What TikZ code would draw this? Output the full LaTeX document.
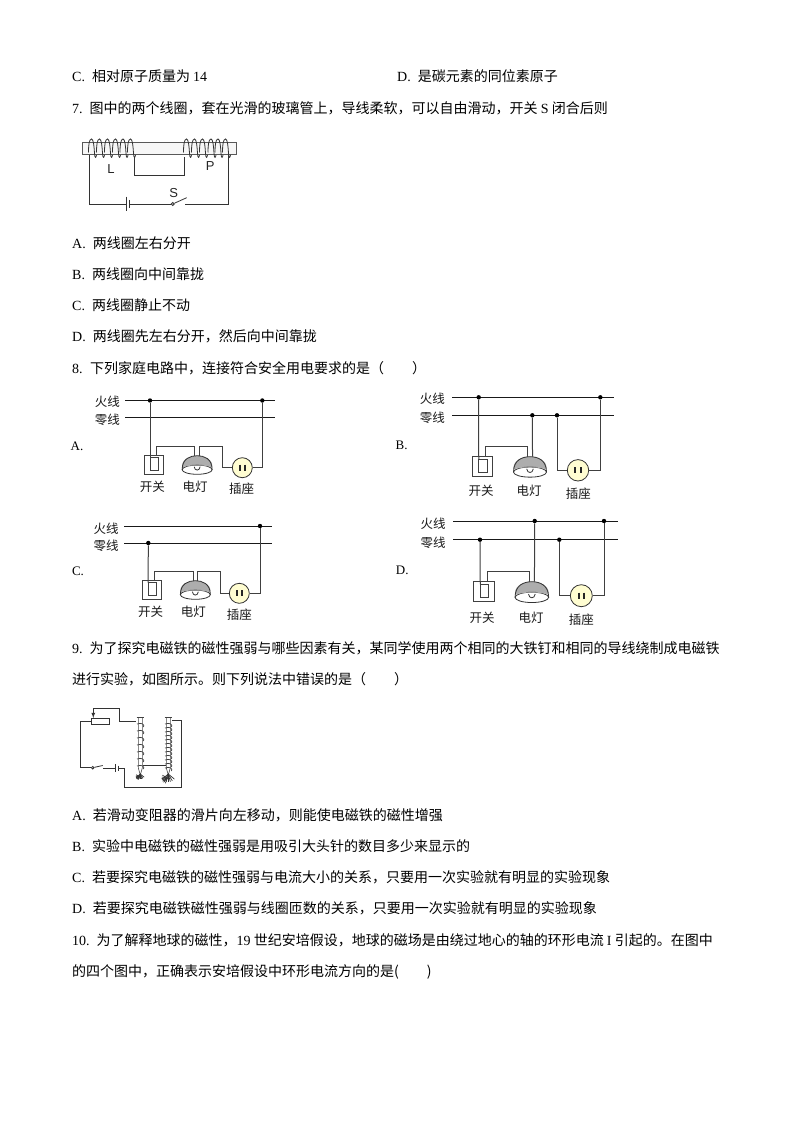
\documentclass[tikz,border=0pt]{standalone}
\usepackage{fontspec}
\setmainfont{Liberation Serif}
\newfontfamily\cjk{Noto Sans CJK SC}
\newfontfamily\labelfont{Liberation Sans}
\usetikzlibrary{positioning,calc,arrows}
\newcommand{\lat}[1]{{\rmfamily #1}}

\tikzset{
  qtext/.style={anchor=base west,inner sep=0pt,yshift=-0.7pt,font=\fontsize{14}{14}\cjk},
  cirtext/.style={inner sep=0pt,font=\fontsize{12.5}{12.5}\cjk,text=black!90},
  opttext/.style={inner sep=0pt,font=\fontsize{13}{13}\rmfamily},
  coiltext/.style={inner sep=0pt,font=\fontsize{13}{13}\labelfont,text=black!85},
  busline/.style={line width=1pt,black!90},
  wire/.style={line width=1pt,black!75},
  thinwire/.style={line width=0.8pt,black!80},
  junc/.style={circle,fill=black,inner sep=0pt,minimum size=4.4pt},
  socket/.style={circle,draw=black!80,line width=0.8pt,fill=yellow!18,inner sep=0pt,
    path picture={
      \draw[line width=2pt,black!85] ($(path picture bounding box.center)+(-2.8,-3)$)--++(0,6);
      \draw[line width=2pt,black!85] ($(path picture bounding box.center)+(2.8,-3)$)--++(0,6);
    }},
  lampshape/.pic={
    \fill[black!32] (-15,10) .. controls (-15,3) and (-7,0) .. (0,0) .. controls (7,0) and (15,3) .. (15,10) -- cycle;
    \draw[thinwire,fill=white] (0,14) ellipse (15 and 4.6);
    \fill[black!32] (-14.6,11.5) .. controls (-7,9) and (7,9) .. (14.6,11.5) -- (15,9) -- (-15,9) -- cycle;
    \draw[thinwire] (-15,14) .. controls (-15,3) and (-7,0) .. (0,0) .. controls (7,0) and (15,3) .. (15,14);
    \draw[thinwire,fill=white] (-3,11) .. controls (-2.5,15.5) and (2.5,15.5) .. (3,11);
    \coordinate (-tl) at (-2.3,0);
    \coordinate (-tr) at (2.3,0);
  },
  switchbox/.pic={
    \draw[wire,fill=white] (-9.6,-9.5) rectangle (9.6,9.5);
    \draw[wire] (-3.65,-6.8) rectangle (4.35,5.5);
    \coordinate (-in) at (-3.65,-6.8);
    \coordinate (-out) at (3,-9.5);
  }
}

\begin{document}
\begin{tikzpicture}[x=1pt,y=-1pt]
\useasboundingbox[fill=white] (0,0) rectangle (794,1123);

% question text
\node[qtext] (optc) at (72,81) {\lat{C.}\hspace{7pt}相对原子质量为 \lat{14}};
\node[qtext] (optd) at (397,81) {\lat{D.}\hspace{7pt}是碳元素的同位素原子};
\node[qtext] (q7) at (72,113) {\lat{7.}\hspace{7pt}图中的两个线圈，套在光滑的玻璃管上，导线柔软，可以自由滑动，开关 \lat{S} 闭合后则};
\node[qtext] (q7a) at (72,248) {\lat{A.}\hspace{7pt}两线圈左右分开};
\node[qtext] (q7b) at (72,279) {\lat{B.}\hspace{7pt}两线圈向中间靠拢};
\node[qtext] (q7c) at (72,310) {\lat{C.}\hspace{7pt}两线圈静止不动};
\node[qtext] (q7d) at (72,341) {\lat{D.}\hspace{7pt}两线圈先左右分开，然后向中间靠拢};
\node[qtext] (q8) at (72,373) {\lat{8.}\hspace{7.5pt}下列家庭电路中，连接符合安全用电要求的是（　　）};
\node[qtext] (q9) at (72,653) {\lat{9.}\hspace{7pt}为了探究电磁铁的磁性强弱与哪些因素有关，某同学使用两个相同的大铁钉和相同的导线绕制成电磁铁};
\node[qtext] (q9l) at (72,684) {进行实验，如图所示。则下列说法中错误的是（　　）};
\node[qtext] (q9a) at (72,820) {\lat{A.}\hspace{7pt}若滑动变阻器的滑片向左移动，则能使电磁铁的磁性增强};
\node[qtext] (q9b) at (72,851) {\lat{B.}\hspace{7pt}实验中电磁铁的磁性强弱是用吸引大头针的数目多少来显示的};
\node[qtext] (q9c) at (72,882) {\lat{C.}\hspace{7pt}若要探究电磁铁的磁性强弱与电流大小的关系，只要用一次实验就有明显的实验现象};
\node[qtext] (q9d) at (72,913) {\lat{D.}\hspace{7pt}若要探究电磁铁磁性强弱与线圈匝数的关系，只要用一次实验就有明显的实验现象};
\node[qtext] (q10) at (72,945) {\lat{10.}\hspace{7pt}为了解释地球的磁性，\lat{19} 世纪安培假设，地球的磁场是由绕过地心的轴的环形电流 \lat{I} 引起的。在图中};
\node[qtext] (q10l) at (72,976) {的四个图中，正确表示安培假设中环形电流方向的是(　　)};

% coil figure
\draw[line width=1pt,black!65,fill=black!3] (82,142.3) rectangle (236,155);
\foreach \x in {91.5,99.5,107.5,115.5,123,130.5,186.5,194.5,202.5,211,218,225.5}{
  \draw[thinwire] (\x-3,152.5) .. controls (\x-3,146) and (\x-2.5,139) .. (\x,139)
    .. controls (\x+2,139) and (\x+2.5,146) .. (\x+3,153) .. controls (\x+3.3,158.5) and (\x+4.5,158.5) .. (\x+5,155);
}
\coordinate (cl) at (89.3,155);
\coordinate (cr) at (228.7,155);
\coordinate (ul) at (134.3,156.7);
\coordinate (ur) at (184,156.7);
\coordinate (batl) at (126,204);
\coordinate (batr) at (129.3,204);
\coordinate (swc) at (185,204);
\node[circle,draw,thinwire,fill=white,inner sep=0pt,minimum size=3pt] (swp) at (172.7,204) {};
\draw[thinwire] (cl) |- (batl);
\draw[thinwire] (batr) -- (swp);
\draw[thinwire] (swp) -- (186.7,197.7);
\draw[thinwire] (swc) -| (cr);
\draw[thinwire] (ul) -- (134.3,175.3) -- (184,175.3) -- (ur);
\draw[thinwire] (126,196.7) -- (126,211);
\draw[thinwire] (129.3,200) -- (129.3,208);
\node[coiltext] (coill) at (111,169) {L};
\node[coiltext] (coilp) at (210.3,166.3) {P};
\node[coiltext] (coils) at (173.7,193.3) {S};

% circuit A
\node[opttext] (la) at (77,446) {A.};
\node[cirtext] (fa) at (107.3,402) {火线};
\node[cirtext] (za) at (107.3,419.3) {零线};
\coordinate (fal) at (125,400.5);
\coordinate (far) at (275,400.5);
\coordinate (zal) at (125,417.3);
\coordinate (zar) at (275,417.3);
\draw[busline] (fal) -- (far);
\draw[busline] (zal) -- (zar);
\node[junc] (a1) at (150,400.5) {};
\node[junc] (a2) at (262.3,400.5) {};
\pic (swa) at (153.65,464.5) {switchbox};
\pic (lampa) at (197.15,455.7) {lampshape};
\node[socket,minimum size=20pt] (socka) at (242.3,467.7) {};
\coordinate (at) at (222.3,446.3);
\draw[wire] (a1) -- (swa-in);
\draw[wire] (swa-out) |- (lampa-tl |- at) -- (lampa-tl);
\draw[wire] (lampa-tr) |- (at) |- (socka.west);
\draw[wire] (socka.east) -| (a2);
\node[cirtext] (kaia) at (152.3,486.7) {开关};
\node[cirtext] (denga) at (195,487) {电灯};
\node[cirtext] (chaa) at (241.7,489) {插座};

% circuit B
\node[opttext] (lb) at (401.7,445.7) {B.};
\node[cirtext] (fb) at (432.3,399) {火线};
\node[cirtext] (zb) at (432.3,417.7) {零线};
\coordinate (fbl) at (452.3,397.3);
\coordinate (fbr) at (613.7,397.3);
\coordinate (zbl) at (452.3,415.3);
\coordinate (zbr) at (613.7,415.3);
\draw[busline] (fbl) -- (fbr);
\draw[busline] (zbl) -- (zbr);
\node[junc] (b1) at (478.7,397.3) {};
\node[junc] (b2) at (600.3,397.3) {};
\node[junc] (b3) at (532.3,415.3) {};
\node[junc] (b4) at (557,415.3) {};
\pic[scale=1.07] (swb) at (482.65,466.65) {switchbox};
\pic[scale=1.1] (lampb) at (530,456.7) {lampshape};
\node[socket,minimum size=21.4pt] (sockb) at (578,470.3) {};
\coordinate (bt) at (485.7,446.7);
\draw[wire] (b1) -- (swb-in);
\draw[wire] (swb-out) |- (lampb-tl |- bt) -- (lampb-tl);
\draw[wire] (b3) -- (lampb-tr);
\draw[wire] (b4) |- (sockb.west);
\draw[wire] (sockb.east) -| (b2);
\node[cirtext] (kaib) at (481,491) {开关};
\node[cirtext] (dengb) at (529,491) {电灯};
\node[cirtext] (chab) at (578.3,493.3) {插座};

% circuit C
\node[opttext] (lc) at (78,571) {C.};
\node[cirtext] (fc) at (106,528.3) {火线};
\node[cirtext] (zc) at (106,545.3) {零线};
\coordinate (fcl) at (124,526);
\coordinate (fcr) at (272,526);
\coordinate (zcl) at (124,543);
\coordinate (zcr) at (272,543);
\draw[busline] (fcl) -- (fcr);
\draw[busline] (zcl) -- (zcr);
\node[junc] (c1) at (148.3,543) {};
\node[junc] (c2) at (260,526) {};
\pic (swc2) at (151.8,589.5) {switchbox};
\pic (lampc) at (195.35,580.7) {lampshape};
\node[socket,minimum size=20pt] (sockc) at (239.3,593.3) {};
\coordinate (ct) at (220,571.3);
\draw[wire] (c1) -- (swc2-in);
\draw[wire] (swc2-out) |- (lampc-tl |- ct) -- (lampc-tl);
\draw[wire] (lampc-tr) |- (ct) |- (sockc.west);
\draw[wire] (sockc.east) -| (c2);
\node[cirtext] (kaic) at (150.7,612) {开关};
\node[cirtext] (dengc) at (193.3,612) {电灯};
\node[cirtext] (chac) at (239.3,614.3) {插座};

% circuit D
\node[opttext] (ld) at (402.3,570) {D.};
\node[cirtext] (fd) at (433,523.3) {火线};
\node[cirtext] (zd) at (433,542.3) {零线};
\coordinate (fdl) at (453,521);
\coordinate (fdr) at (617.7,521);
\coordinate (zdl) at (453,539.7);
\coordinate (zdr) at (617.7,539.7);
\draw[busline] (fdl) -- (fdr);
\draw[busline] (zdl) -- (zdr);
\node[junc] (d1) at (480,539.7) {};
\node[junc] (d2) at (534.7,521) {};
\node[junc] (d3) at (559.3,539.7) {};
\node[junc] (d4) at (604,521) {};
\pic[scale=1.08] (swd) at (484.2,591.65) {switchbox};
\pic[scale=1.12] (lampd) at (531.85,581.7) {lampshape};
\node[socket,minimum size=22pt] (sockd) at (581.3,595.7) {};
\coordinate (dt) at (486.7,571.7);
\draw[wire] (d1) -- (swd-in);
\draw[wire] (swd-out) |- (lampd-tl |- dt) -- (lampd-tl);
\draw[wire] (d2) -- (lampd-tr);
\draw[wire] (d3) |- (sockd.west);
\draw[wire] (sockd.east) -| (d4);
\node[cirtext] (kaid) at (482,617.3) {开关};
\node[cirtext] (dengd) at (531,617.3) {电灯};
\node[cirtext] (chad) at (581.3,619.3) {插座};

% electromagnet figure
\node[draw,thinwire,minimum width=18.7pt,minimum height=6pt,inner sep=0pt] (rheo) at (100.35,721) {};
\coordinate (sl) at (93.3,708.7);
\coordinate (nl) at (135.7,721);
\coordinate (nr) at (171.7,720.7);
\coordinate (ml) at (142.7,765.7);
\coordinate (mr) at (166,765.7);
\node[circle,draw,thinwire,fill=white,inner sep=0pt,minimum size=2.6pt] (sw9) at (92.7,767.7) {};
\draw[thinwire,-latex] (sl) -- (93.3,718);
\draw[thinwire] (sl) -- (119,708.7) |- (nl);
\draw[thinwire] (rheo.west) -| (80,767.7) -- (sw9);
\draw[thinwire] (sw9) -- (102.7,765.5);
\draw[thinwire] (103.3,768.3) -- (115,768.3);
\draw[thinwire] (115,764) -- (115,772);
\draw[thinwire] (118.7,765.7) -- (118.7,770.5);
\draw[thinwire] (118.7,768) -- (124.7,768) |- (181.7,787.3) |- (nr);
\draw[thinwire] (ml) -- (mr);
% nails
\foreach \nx/\pinlen in {140.3/5,168.3/8}{
  \draw[line width=1.2pt,black!75] (\nx-3.8,717.3) -- (\nx+3.8,717.3);
  \draw[line width=0.6pt,black!70] (\nx-2,718) -- (\nx-2,768) -- (\nx,775) -- (\nx+2,768) -- (\nx+2,718);
  \foreach \a in {40,60,75,90,105,120,140}{
    \draw[line width=0.7pt,black!80] (\nx,774) -- ++(\a:\pinlen);
    \draw[line width=0.7pt,black!80] (\nx-1,\pinlen*0.5+774) -- ++(\a+70:\pinlen*0.7);
  }
}
\foreach \y in {724,731,738,745,752,759,766}{
  \draw[line width=0.7pt,black!75] (137,\y) .. controls (142,\y-2) and (145,\y+1) .. (143.5,\y+3);
}
\foreach \y in {724,728,732,736,740,744,748,752,756,760,764,768}{
  \draw[line width=0.7pt,black!75] (165,\y) .. controls (170,\y-2) and (173,\y+1) .. (171.5,\y+3);
}
\end{tikzpicture}
\end{document}
